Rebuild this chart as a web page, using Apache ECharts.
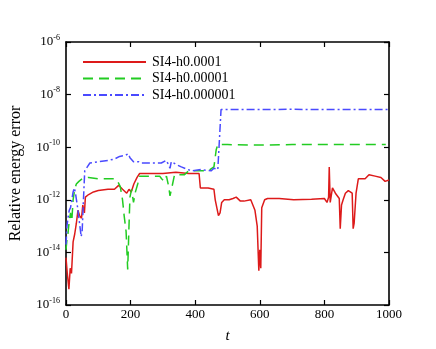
<!DOCTYPE html>
<html>
    <head>
        <meta charset="UTF-8">
        <title></title>
        <style>
            body { margin: 0; background: #fff; }
            #container { width: 436px; height: 349px; }
        </style>
    </head>
    <body>
        <div id="container"></div>
        <script src="https://cdn.jsdelivr.net/npm/echarts@6/dist/echarts.min.js"></script>
        <script>
            // values are log10 of the relative energy error
            var redT = [0, 4, 9, 13, 17, 22, 27, 32, 37, 42, 48, 52, 57, 60, 70, 85, 100, 130, 150, 163, 175, 188, 195, 202, 210, 220, 228, 260, 300, 340, 380, 412, 416, 440, 458, 462, 472, 477, 482, 490, 505, 517, 527, 540, 551, 572, 585, 592, 597, 600, 603, 606, 615, 624, 660, 705, 760, 800, 808, 813, 815, 818, 825, 834, 846, 849, 853, 858, 865, 874, 886, 889, 892, 898, 905, 926, 938, 957, 975, 988, 1000];
            var redE = [-14.2, -14.8, -15.4, -14.6, -14.8, -13.6, -13.3, -12.9, -12.4, -12.6, -12.7, -12.2, -12.5, -11.9, -11.8, -11.7, -11.65, -11.6, -11.6, -11.45, -11.6, -11.75, -11.6, -11.7, -11.4, -11.15, -11.0, -11.0, -11.0, -10.95, -11.0, -11.0, -11.55, -11.55, -11.6, -12.0, -12.6, -12.5, -12.1, -12.0, -12.0, -11.95, -11.9, -12.05, -12.05, -12.0, -12.4, -13.0, -14.7, -13.9, -14.6, -12.3, -12.0, -11.95, -11.95, -12.0, -11.98, -11.95, -12.1, -11.9, -10.75, -12.1, -11.55, -11.75, -11.95, -13.1, -12.2, -12.0, -11.75, -11.65, -11.75, -13.1, -12.9, -11.75, -11.2, -11.2, -11.05, -11.1, -11.15, -11.3, -11.25];

            var greenT = [0, 3, 6, 10, 14, 18, 22, 27, 32, 40, 50, 70, 100, 150, 160, 168, 175, 180, 186, 191, 195, 198, 203, 209, 215, 222, 228, 260, 290, 296, 305, 311, 318, 322, 326, 330, 336, 366, 380, 400, 440, 458, 465, 470, 500, 600, 700, 800, 900, 990];
            var greenE = [-13.9, -13.5, -13.3, -12.8, -12.5, -12.8, -12.0, -11.6, -11.4, -11.3, -11.2, -11.15, -11.2, -11.2, -11.3, -11.5, -12.0, -12.6, -13.2, -14.65, -13.0, -11.9, -11.6, -12.1, -11.7, -11.4, -11.1, -11.1, -11.1, -11.2, -11.3, -11.1, -11.5, -11.85, -11.9, -11.4, -11.05, -11.05, -10.9, -10.9, -10.9, -10.75, -10.1, -9.9, -9.9, -9.92, -9.9, -9.9, -9.9, -9.9];

            var blueT = [0, 3, 6, 10, 14, 18, 22, 26, 30, 36, 42, 47, 50, 54, 58, 66, 74, 100, 131, 150, 166, 185, 193, 198, 209, 225, 234, 265, 295, 310, 317, 322, 326, 340, 357, 388, 418, 449, 458, 470, 476, 480, 600, 700, 800, 1000];
            var blueE = [-13.7, -13.0, -12.7, -12.4, -12.3, -12.0, -11.7, -11.55, -11.8, -12.3, -12.9, -13.4, -13.2, -12.0, -10.9, -10.75, -10.6, -10.55, -10.5, -10.45, -10.35, -10.3, -10.25, -10.4, -10.55, -10.55, -10.6, -10.6, -10.6, -10.5, -10.65, -10.8, -10.55, -10.65, -10.75, -10.9, -10.85, -10.9, -10.8, -10.85, -10.9, -8.57, -8.57, -8.56, -8.57, -8.57];

            var names = ['SI4-h0.0001', 'SI4-h0.00001', 'SI4-h0.000001'];
            var xTicks = [0, 200, 400, 600, 800, 1000];
            var yExp = [-16, -6];

            function pairs(t, e) {
                return t.map(function (v, i) { return [v, Math.pow(10, e[i])]; });
            }

            var serif = 'Liberation Serif';
            var myChart = echarts.init(document.getElementById('container'));

            var tickIn = { show: true, inside: true, length: 5, lineStyle: { color: '#000', width: 1.2 } };
            var lineAx = { show: true, onZero: false, lineStyle: { color: '#000', width: 1.6 } };

            myChart.setOption({
                animation: false,
                textStyle: { fontFamily: serif },
                grid: { left: 64, right: 47, top: 42, bottom: 40 },
                legend: {
                    orient: 'vertical',
                    left: 77,
                    top: 50,
                    itemWidth: 63,
                    itemHeight: 14,
                    itemGap: 2.5,
                    itemStyle: { opacity: 0 },
                    textStyle: { fontFamily: serif, fontSize: 14, color: '#000', padding: [0, 0, 0, 1] },
                    data: names
                },
                xAxis: [{
                    type: 'value',
                    min: xTicks[0],
                    max: xTicks[xTicks.length - 1],
                    interval: 200,
                    name: 't',
                    nameLocation: 'middle',
                    nameGap: 24,
                    nameTextStyle: { fontFamily: serif, fontSize: 15, fontStyle: 'italic', color: '#000' },
                    axisLine: lineAx,
                    axisTick: tickIn,
                    splitLine: { show: false },
                    axisLabel: {
                        fontFamily: serif, fontSize: 13, color: '#000', margin: 3,
                        formatter: function (v) { return String(v); }
                    }
                }, {
                    type: 'value',
                    position: 'top',
                    min: xTicks[0],
                    max: xTicks[xTicks.length - 1],
                    interval: 200,
                    axisLine: lineAx,
                    axisTick: tickIn,
                    splitLine: { show: false },
                    axisLabel: { show: false }
                }],
                yAxis: [{
                    type: 'log',
                    logBase: 10,
                    min: Math.pow(10, yExp[0]),
                    max: Math.pow(10, yExp[1]),
                    interval: 2,
                    name: 'Relative energy error',
                    nameLocation: 'middle',
                    nameGap: 42,
                    nameTextStyle: { fontFamily: serif, fontSize: 16, color: '#000' },
                    axisLine: lineAx,
                    axisTick: tickIn,
                    minorTick: { show: false },
                    splitLine: { show: false },
                    axisLabel: {
                        margin: 6,
                        formatter: function (v) {
                            return '{b|10}{s|' + Math.round(Math.log10(v)) + '}';
                        },
                        rich: {
                            b: { fontFamily: serif, fontSize: 13, color: '#000' },
                            s: { fontFamily: serif, fontSize: 8, color: '#000', padding: [0, 0, 9, 0] }
                        }
                    }
                }, {
                    type: 'log',
                    logBase: 10,
                    position: 'right',
                    min: Math.pow(10, yExp[0]),
                    max: Math.pow(10, yExp[1]),
                    interval: 2,
                    axisLine: lineAx,
                    axisTick: tickIn,
                    splitLine: { show: false },
                    axisLabel: { show: false }
                }],
                series: [{
                    name: names[0],
                    type: 'line',
                    symbol: 'none',
                    data: pairs(redT, redE),
                    lineStyle: { color: '#dd1a1a', width: 1.5 },
                    itemStyle: { color: '#dd1a1a' }
                }, {
                    name: names[1],
                    type: 'line',
                    symbol: 'none',
                    data: pairs(greenT, greenE),
                    lineStyle: { color: '#22cc22', width: 1.5, type: [10, 6] },
                    itemStyle: { color: '#22cc22' }
                }, {
                    name: names[2],
                    type: 'line',
                    symbol: 'none',
                    data: pairs(blueT, blueE),
                    lineStyle: { color: '#4a4aff', width: 1.5, type: [8, 3, 2, 3] },
                    itemStyle: { color: '#4a4aff' }
                }]
            });
        </script>
    </body>
</html>
